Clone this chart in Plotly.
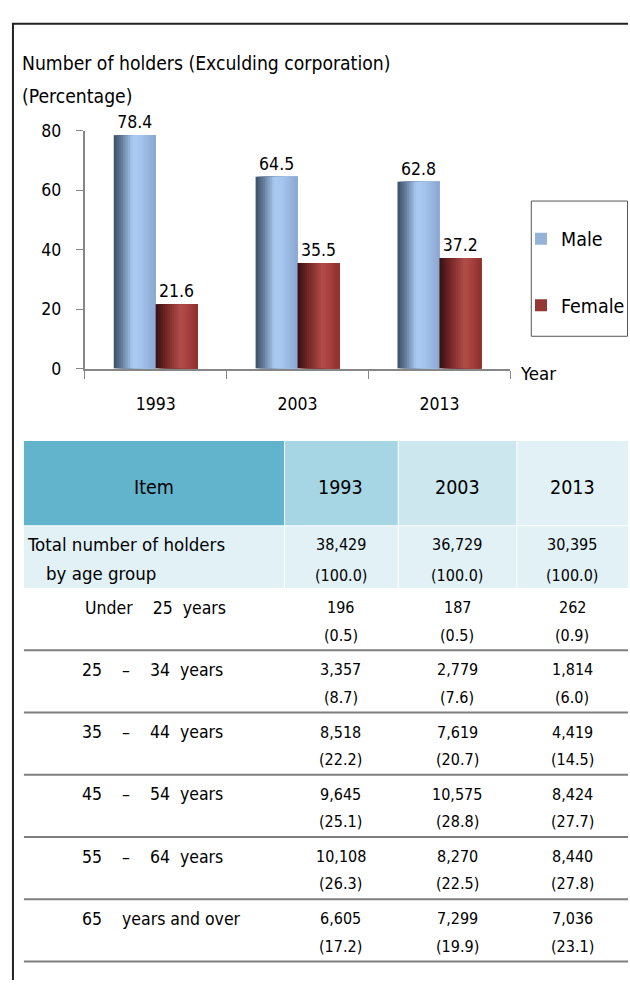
import plotly.graph_objects as go

# ---------------- data ----------------
years = ["1993", "2003", "2013"]
male_pct = [78.4, 64.5, 62.8]
female_pct = [21.6, 35.5, 37.2]
y_tick_vals = [0, 20, 40, 60, 80]

chart_title = "Number of holders (Exculding corporation)"
unit_label = "(Percentage)"
x_axis_label = "Year"

table_header = ["Item", "1993", "2003", "2013"]
total_label = ["Total number of holders", "by age group"]
total_holders = [38429, 36729, 30395]
total_share = [100.0, 100.0, 100.0]

NB = "\u00a0"
age_groups = [
    "Under" + NB * 4 + "25" + NB * 2 + "years",
    "25" + NB * 4 + "–" + NB * 4 + "34" + NB * 2 + "years",
    "35" + NB * 4 + "–" + NB * 4 + "44" + NB * 2 + "years",
    "45" + NB * 4 + "–" + NB * 4 + "54" + NB * 2 + "years",
    "55" + NB * 4 + "–" + NB * 4 + "64" + NB * 2 + "years",
    "65" + NB * 4 + "years and over",
]
holders_1993 = [196, 3357, 8518, 9645, 10108, 6605]
holders_2003 = [187, 2779, 7619, 10575, 8270, 7299]
holders_2013 = [262, 1814, 4419, 8424, 8440, 7036]
share_1993 = [0.5, 8.7, 22.2, 25.1, 26.3, 17.2]
share_2003 = [0.5, 7.6, 20.7, 28.8, 22.5, 19.9]
share_2013 = [0.9, 6.0, 14.5, 27.7, 27.8, 23.1]

# ---------------- style ----------------
W, H = 630, 990
FONT = "DejaVu Sans Condensed, Tahoma, DejaVu Sans, sans-serif"
AXIS_COL = "#868686"
MALE_SOLID = "#95b3d7"
FEMALE_SOLID = "#953735"
MALE_STOPS = [(0.0, "#3d4e65"), (0.18, "#617a98"), (0.45, "#abcbf2"), (0.62, "#a7c6ee"), (1.0, "#8aa7d0")]
FEMALE_STOPS = [(0.0, "#341111"), (0.22, "#6b2423"), (0.6, "#b24d4a"), (0.75, "#a8423f"), (1.0, "#8c302e")]


def px(x):
    return x / W


def py(y):
    return 1 - y / H


def hex2rgb(h):
    h = h.lstrip("#")
    return tuple(int(h[i:i + 2], 16) for i in (0, 2, 4))


def grad(stops, t):
    for (t0, c0), (t1, c1) in zip(stops[:-1], stops[1:]):
        if t0 <= t <= t1:
            f = 0 if t1 == t0 else (t - t0) / (t1 - t0)
            a, b = hex2rgb(c0), hex2rgb(c1)
            return "rgb(%d,%d,%d)" % tuple(round(a[i] + (b[i] - a[i]) * f) for i in range(3))
    return stops[-1][1]


BAR_W = 0.295
N_STRIPS = 18

fig = go.Figure()

series = [
    ("Male", male_pct, MALE_SOLID, MALE_STOPS, -BAR_W),
    ("Female", female_pct, FEMALE_SOLID, FEMALE_STOPS, 0.0),
]

# base bars (carry labels + legend)
for name, vals, solid, stops, off in series:
    fig.add_trace(go.Bar(
        x=years, y=vals, name=name, legendgroup=name,
        width=BAR_W, offset=off,
        marker=dict(color=solid, line=dict(width=0)),
        text=["%.1f" % v for v in vals], textposition="outside",
        textfont=dict(family=FONT, size=17.5, color="#000000"),
        cliponaxis=False, hoverinfo="skip",
    ))

# shading strips (cylinder look)
for name, vals, solid, stops, off in series:
    for i in range(N_STRIPS):
        t = (i + 0.5) / N_STRIPS
        start = off + BAR_W * i / N_STRIPS
        fig.add_trace(go.Bar(
            x=years, y=vals, legendgroup=name, showlegend=False,
            width=BAR_W - BAR_W * i / N_STRIPS, offset=start,
            marker=dict(color=grad(stops, t), line=dict(width=0)),
            hoverinfo="skip", cliponaxis=True,
        ))

shapes = []
annotations = []

# outer frame
shapes.append(dict(type="line", xref="paper", yref="paper", x0=px(13), x1=px(13), y0=py(990), y1=py(14),
                   line=dict(color="#222222", width=2)))
shapes.append(dict(type="line", xref="paper", yref="paper", x0=px(12), x1=px(630), y0=py(14), y1=py(14),
                   line=dict(color="#222222", width=2)))

# legend frame
shapes.append(dict(type="rect", xref="paper", yref="paper", x0=px(533), x1=px(629.5), y0=py(195), y1=py(333),
                   line=dict(color="#555555", width=1), fillcolor="rgba(0,0,0,0)"))

# titles
annotations.append(dict(text=chart_title, x=px(20), y=py(55), xref="paper", yref="paper",
                        xanchor="left", yanchor="middle", showarrow=False,
                        font=dict(family=FONT, size=19.2, color="#000000")))
annotations.append(dict(text=unit_label, x=px(20), y=py(88), xref="paper", yref="paper",
                        xanchor="left", yanchor="middle", showarrow=False,
                        font=dict(family=FONT, size=19.2, color="#000000")))
annotations.append(dict(text=x_axis_label, x=px(520), y=py(371), xref="paper", yref="paper",
                        xanchor="left", yanchor="middle", showarrow=False,
                        font=dict(family=FONT, size=18.5, color="#000000")))

# ---------------- table ----------------
cols_x = [24, 285, 399, 518, 630]
col_centers = [(cols_x[i] + cols_x[i + 1]) / 2 for i in range(1, 4)]
head_fill = ["#62b4cc", "#a6d5e3", "#cde7ef", "#e1f1f6"]
HEAD_TOP, HEAD_BOT = 440, 526
TOT_BOT = 590
ROW_H = 63.5
LINE_COL = "#7f7f7f"

for i in range(4):
    shapes.append(dict(type="rect", xref="paper", yref="paper", layer="below",
                       x0=px(cols_x[i] + (1 if i else 0)), x1=px(cols_x[i + 1]),
                       y0=py(HEAD_BOT), y1=py(HEAD_TOP), line=dict(width=0), fillcolor=head_fill[i]))
    shapes.append(dict(type="rect", xref="paper", yref="paper", layer="below",
                       x0=px(cols_x[i] + (1 if i else 0)), x1=px(cols_x[i + 1]),
                       y0=py(TOT_BOT), y1=py(HEAD_BOT + 1), line=dict(width=0), fillcolor="#e2f1f6"))

head_x = [(cols_x[0] + cols_x[1]) / 2] + col_centers
for i, txt in enumerate(table_header):
    annotations.append(dict(text=txt, x=px(head_x[i]), y=py(487), xref="paper", yref="paper",
                            xanchor="center", yanchor="middle", showarrow=False,
                            font=dict(family=FONT, size=19.5, color="#000000")))

TOTFONT = dict(family=FONT, size=18.5, color="#000000")
LFONT = dict(family=FONT, size=17.5, color="#000000")
TFONT = dict(family=FONT, size=16, color="#000000")
annotations.append(dict(text=total_label[0], x=px(25), y=py(546), xref="paper", yref="paper",
                        xanchor="left", yanchor="middle", showarrow=False, font=TOTFONT))
annotations.append(dict(text=total_label[1], x=px(44), y=py(575), xref="paper", yref="paper",
                        xanchor="left", yanchor="middle", showarrow=False, font=TOTFONT))
for j in range(3):
    annotations.append(dict(text=f"{total_holders[j]:,}", x=px(col_centers[j]), y=py(546),
                            xref="paper", yref="paper", xanchor="center", yanchor="middle",
                            showarrow=False, font=TFONT))
    annotations.append(dict(text=f"({total_share[j]:.1f})", x=px(col_centers[j]), y=py(577),
                            xref="paper", yref="paper", xanchor="center", yanchor="middle",
                            showarrow=False, font=TFONT))

holders = [holders_1993, holders_2003, holders_2013]
shares = [share_1993, share_2003, share_2013]
for r, label in enumerate(age_groups):
    top = TOT_BOT + r * ROW_H
    lx = 83 if r == 0 else 80
    annotations.append(dict(text=label, x=px(lx), y=py(top + 20), xref="paper", yref="paper",
                            xanchor="left", yanchor="middle", showarrow=False, font=LFONT))
    for j in range(3):
        annotations.append(dict(text=f"{holders[j][r]:,}", x=px(col_centers[j]), y=py(top + 20),
                                xref="paper", yref="paper", xanchor="center", yanchor="middle",
                                showarrow=False, font=TFONT))
        annotations.append(dict(text=f"({shares[j][r]:.1f})", x=px(col_centers[j]), y=py(top + 48),
                                xref="paper", yref="paper", xanchor="center", yanchor="middle",
                                showarrow=False, font=TFONT))
    yb = top + ROW_H
    shapes.append(dict(type="line", xref="paper", yref="paper", x0=px(24), x1=px(630),
                       y0=py(yb), y1=py(yb), line=dict(color=LINE_COL, width=2)))

fig.update_layout(
    width=W, height=H,
    margin=dict(l=0, r=0, t=0, b=0),
    paper_bgcolor="white", plot_bgcolor="white",
    barmode="overlay",
    font=dict(family=FONT, size=17, color="#000000"),
    hovermode=False,
    showlegend=True,
    legend=dict(x=px(523), y=py(214), xanchor="left", yanchor="top",
                bgcolor="rgba(0,0,0,0)", borderwidth=0,
                font=dict(family=FONT, size=19.5, color="#000000"),
                traceorder="grouped", tracegroupgap=38, itemwidth=30),
    xaxis=dict(domain=[px(85), px(512)], type="category", categoryorder="array", categoryarray=years,
               showline=True, linecolor=AXIS_COL, linewidth=2, ticks="outside", tickson="boundaries",
               ticklen=8, tickcolor=AXIS_COL, tickwidth=1, showgrid=False, zeroline=False,
               tickfont=dict(family=FONT, size=17.5, color="#000000"), ticklabelstandoff=18,
               fixedrange=True),
    yaxis=dict(domain=[py(366), py(123)], range=[0, 80], tickvals=y_tick_vals,
               showline=True, linecolor=AXIS_COL, linewidth=2, ticks="outside", ticklen=7,
               tickcolor=AXIS_COL, tickwidth=1, showgrid=False, zeroline=False,
               tickfont=dict(family=FONT, size=17.5, color="#000000"), ticklabelstandoff=11,
               fixedrange=True),
    shapes=shapes,
    annotations=annotations,
)

post = ("var de=document.documentElement,b=document.body;"
        "de.style.margin='0';de.style.padding='0';de.style.overflow='hidden';de.style.height='990px';"
        "b.style.margin='0';b.style.padding='0';b.style.overflow='hidden';b.style.height='990px';"
        "var gd=document.getElementById('{plot_id}');"
        "gd.style.position='absolute';gd.style.top='0px';gd.style.left='0px';")

fig.write_html("out.html", config={"displayModeBar": False, "staticPlot": True}, post_script=post)
